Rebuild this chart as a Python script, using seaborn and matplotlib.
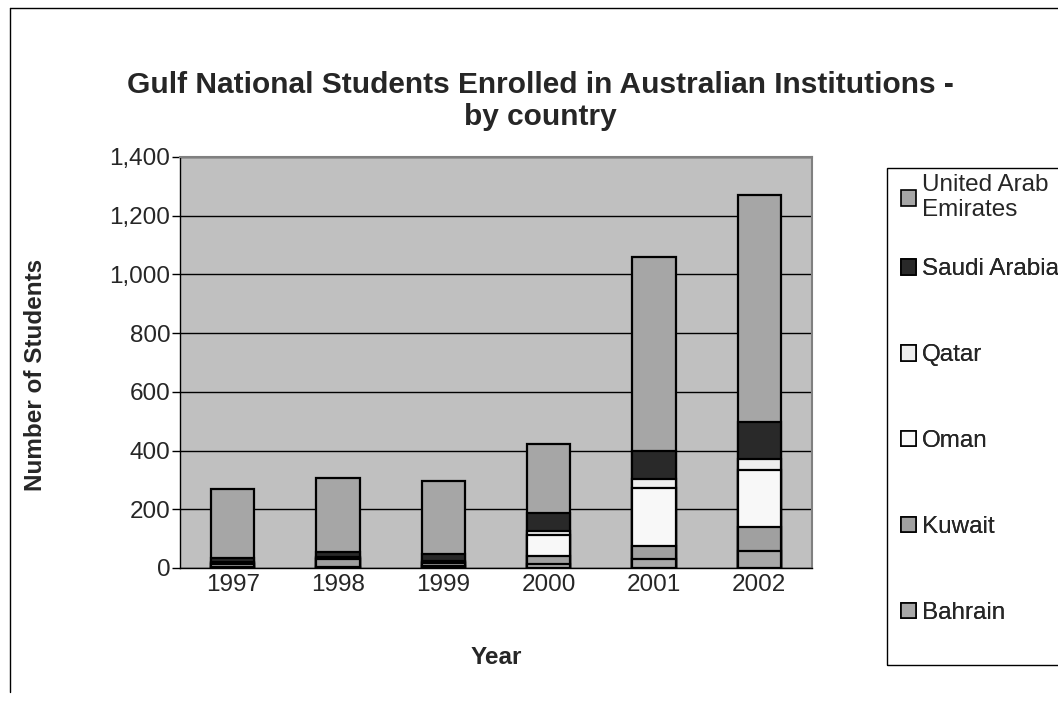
import matplotlib
matplotlib.use("Agg")
import matplotlib.pyplot as plt
import seaborn as sns
import numpy as np
import pandas as pd
from matplotlib.patches import Patch, Rectangle
from matplotlib.lines import Line2D
from matplotlib.ticker import FuncFormatter, FixedLocator

years = ["1997", "1998", "1999", "2000", "2001", "2002"]
bahrain = [5, 5, 8, 12, 30, 59]
kuwait = [10, 25, 8, 30, 45, 80]
oman = [2, 3, 5, 70, 196, 195]
qatar = [3, 3, 4, 15, 32, 37]
saudi = [15, 20, 22, 60, 97, 127]
uae = [233, 249, 248, 237, 660, 774]

series = [
    ("Bahrain", bahrain, "#a8a8a8"),
    ("Kuwait", kuwait, "#a0a0a0"),
    ("Oman", oman, "#f8f8f8"),
    ("Qatar", qatar, "#eeeeee"),
    ("Saudi Arabia", saudi, "#292929"),
    ("United Arab\nEmirates", uae, "#a6a6a6"),
]

sns.set_style("white")
plt.rcParams['font.family'] = ['Liberation Sans', 'DejaVu Sans']

W, H = 1058, 701
fig = plt.figure(figsize=(W / 100, H / 100), dpi=100)
ax = fig.add_axes([180/W, (H-568)/H, (812-180)/W, (568-157)/H])
ax.set_facecolor("#c0c0c0")

cum = np.zeros(len(years))
layers = []
for name, vals, col in series:
    cum = cum + np.array(vals)
    layers.append((name, cum.copy(), col))

for name, c, col in reversed(layers):
    df = pd.DataFrame({"Year": years, "v": c})
    sns.barplot(data=df, x="Year", y="v", color=col, width=0.41,
                edgecolor="black", linewidth=1.6, saturation=1, ax=ax, zorder=3)

ax.set_ylim(0, 1400)
ax.set_xlim(-0.5, 5.5)
ax.set_yticks(np.arange(0, 1401, 200))
ax.yaxis.set_major_formatter(FuncFormatter(lambda v, p: f"{int(v):,}"))
ax.grid(axis="y", color="black", linewidth=1.0, zorder=0)
ax.set_axisbelow(True)

ax.tick_params(axis="x", which="major", length=0, labelsize=17.5, pad=4)
ax.xaxis.set_minor_locator(FixedLocator(np.arange(-0.5, 6, 1.0)))
ax.tick_params(axis="x", which="minor", length=8, width=1, color="black", direction="out")
ax.tick_params(axis="y", which="major", length=6, width=1, color="black", direction="out", labelsize=17.5, pad=1)
ax.tick_params(axis="y", left=True)

for s in ["left", "bottom"]:
    ax.spines[s].set_color("black")
    ax.spines[s].set_linewidth(1)
for s in ["top", "right"]:
    ax.spines[s].set_color("#808080")
    ax.spines[s].set_linewidth(1.5)

ax.set_xlabel("Year", fontsize=17.5, fontweight="bold")
ax.set_ylabel("Number of Students", fontsize=17.5, fontweight="bold")
ax.xaxis.set_label_coords(0.5, (568 - 646) / 411)
ax.yaxis.set_label_coords((47 - 180) / 632, 0.47)

fig.text(540/W, 1 - 101/H, "Gulf National Students Enrolled in Australian Institutions -\nby country",
         ha="center", va="center", fontsize=21.5, fontweight="bold", linespacing=1.2)

handles = [Patch(facecolor=col, edgecolor="black", linewidth=1.2, label=name)
           for name, c, col in reversed(layers)]

leg_kw = dict(frameon=False, fontsize=17.5, handlelength=0.62, handleheight=0.62,
              handletextpad=0.25, borderpad=0, borderaxespad=0)
leg_main = fig.legend(handles=handles[1:], loc="lower left",
                      bbox_to_anchor=(901/W, 1 - 624/H), labelspacing=2.63, **leg_kw)
fig.add_artist(leg_main)
leg_top = fig.legend(handles=handles[:1], loc="upper left",
                     bbox_to_anchor=(901/W, 1 - 174/H), **leg_kw)

fig.add_artist(Rectangle((887/W, 1 - 665/H), (1070 - 887)/W, (665 - 168)/H,
                         transform=fig.transFigure, fill=False, edgecolor="black", linewidth=1))

fig.add_artist(Line2D([10/W, 10/W], [1 - 8/H, 1 - 692/H], color="black", linewidth=1))
fig.add_artist(Line2D([10/W, 1.0], [1 - 8/H, 1 - 8/H], color="black", linewidth=1))

fig.savefig("out.png", dpi=100)
